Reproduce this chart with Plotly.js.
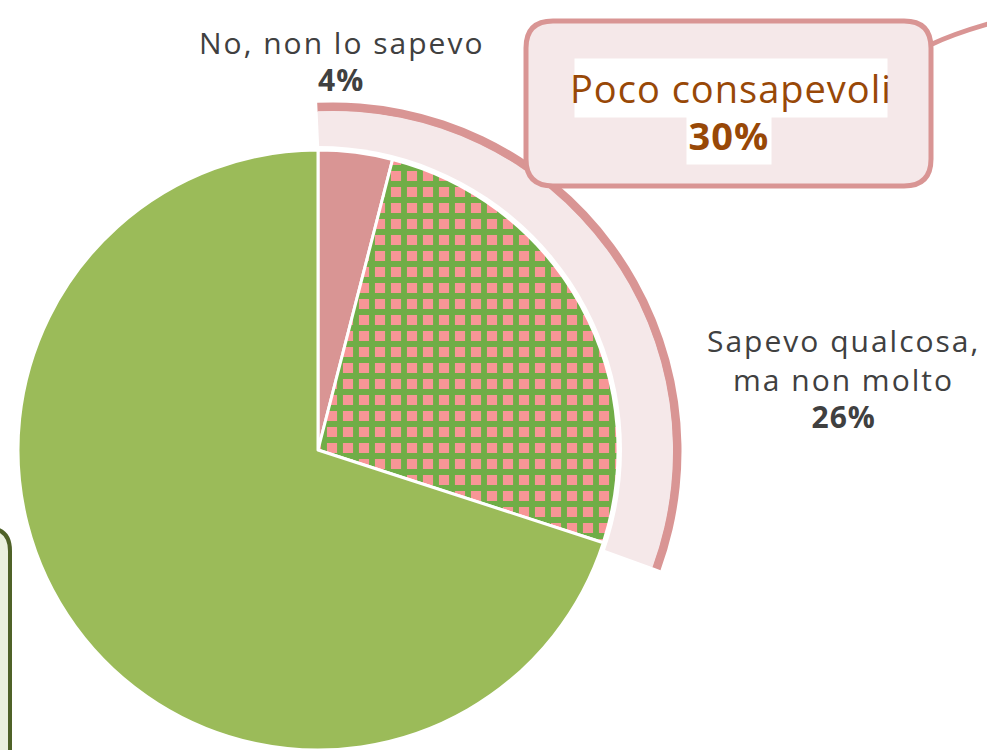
<!DOCTYPE html>
<html>
<head>
<meta charset="utf-8">
<script src="https://cdn.plot.ly/plotly-3.0.1.min.js"></script>
<style>
  html, body { margin: 0; padding: 0; overflow: hidden; background: #fff; }
  #chart { position: absolute; left: -100px; top: 0; width: 1087px; height: 850px; }
  /* the original font is wider: open the letters up a little */
  #chart .annotation text { letter-spacing: 1px; }
  #chart .annotation[data-index="0"] text,
  #chart .annotation[data-index="2"] text,
  #chart .annotation[data-index="3"] text { letter-spacing: 2px; }
</style>
</head>
<body>
<div id="chart"></div>
<script>
// answers (clockwise from 12 o'clock)
var labels = ['No, non lo sapevo', 'Sapevo qualcosa, ma non molto', 'Sì, lo sapevo'];
var values = [4, 26, 70];
var sliceColors = ['#d99594', '#f79696', '#9bbb59'];

// group shown by the outer band
var groupLabel = 'Poco consapevoli';
var groupValue = values[0] + values[1];

var W = 1087, H = 850, OFF = 100;   // drawing area bigger than the window, shifted left
var cx = 318, cy = 450, r = 300;    // pie centre and radius on the page
var bx = 333, by = 451;             // the band is drawn a little off-centre, as in the original
var bandStart = -2.6, bandPad = 4.6; // degrees

function dom(x0, y0, rad) {
  return {
    x: [(x0 + OFF - rad) / W, (x0 + OFF + rad) / W],
    y: [1 - (y0 + rad) / H, 1 - (y0 - rad) / H]
  };
}

var sweep = groupValue * 3.6 + bandPad;

var bandBorder = {
  type: 'pie',
  values: [sweep, 360 - sweep],
  labels: [groupLabel, ''],
  sort: false, direction: 'clockwise', rotation: bandStart,
  hole: 339.5 / 348.5,
  textinfo: 'none', hoverinfo: 'skip',
  domain: dom(bx, by, 348.5),
  marker: {colors: ['#d99594', 'rgba(0,0,0,0)'], line: {width: 0}},
  showlegend: false
};

var band = {
  type: 'pie',
  values: [sweep, 360 - sweep],
  labels: [groupLabel, ''],
  sort: false, direction: 'clockwise', rotation: bandStart,
  textinfo: 'none', hoverinfo: 'skip',
  domain: dom(bx, by, 340),
  marker: {colors: ['#f5e8e9', 'rgba(0,0,0,0)'], line: {width: 0}},
  showlegend: false
};

// white gap between the pie and the band
var gap = {
  type: 'pie',
  values: [1],
  labels: [''],
  textinfo: 'none', hoverinfo: 'skip',
  domain: dom(cx, cy, 304),
  marker: {colors: ['#ffffff'], line: {width: 0}},
  showlegend: false
};

var pie = {
  type: 'pie',
  labels: labels,
  values: values,
  sort: false,
  direction: 'clockwise',
  rotation: 0,
  textinfo: 'none',
  hoverinfo: 'label+percent',
  domain: dom(cx, cy, r),
  marker: {
    colors: sliceColors,
    line: {color: '#ffffff', width: 3},
    pattern: {
      shape: ['', '+', ''],
      fillmode: 'replace',
      bgcolor: ['#d99594', '#f79696', '#9bbb59'],
      fgcolor: ['#d99594', '#70ad47', '#9bbb59'],
      size: 16,
      solidity: 0.6
    }
  },
  showlegend: false
};

var font = 'Open Sans, sans-serif';
var grey = '#404040';
var brown = '#984807';

function note(x, y, text, size, color, bg) {
  var a = {
    x: x, y: y, xref: 'x', yref: 'y', text: text, showarrow: false,
    font: {family: font, size: size, color: color}, xanchor: 'center', yanchor: 'middle'
  };
  if (bg) { a.bgcolor = bg; a.borderpad = 3; }
  return a;
}

var layout = {
  width: W,
  height: H,
  margin: {l: 0, r: 0, t: 0, b: 0},
  paper_bgcolor: '#ffffff',
  plot_bgcolor: 'rgba(0,0,0,0)',
  xaxis: {range: [-OFF, W - OFF], visible: false, fixedrange: true},
  yaxis: {range: [H, 0], visible: false, fixedrange: true},
  shapes: [
    // callout box
    {type: 'path', xref: 'x', yref: 'y', layer: 'above',
     path: 'M 553 21 L 904 21 Q 931 21 931 48 L 931 159 Q 931 186 904 186 L 553 186 Q 526 186 526 159 L 526 48 Q 526 21 553 21 Z',
     line: {color: '#d99594', width: 5}, fillcolor: '#f5e8e9'},
    {type: 'path', xref: 'x', yref: 'y', layer: 'above',
     path: 'M 930 45 Q 955 33 995 22',
     line: {color: '#d99594', width: 5}},
    // box at lower left, mostly off the page
    {type: 'path', xref: 'x', yref: 'y', layer: 'below',
     path: 'M -40 528 L -13 528 Q 10 528 10 551 L 10 790 L -40 790 Z',
     line: {color: '#4f6228', width: 4}, fillcolor: '#ebf1de'}
  ],
  annotations: [
    note(341, 42, labels[0], 30, grey),
    note(341, 79, '<b>' + values[0] + '%</b>', 30, grey),
    note(843, 340, 'Sapevo qualcosa,', 30, grey),
    note(843, 379, 'ma non molto', 30, grey),
    note(843, 416, '<b>' + values[1] + '%</b>', 30, grey),
    note(731, 88, groupLabel, 38, brown, '#ffffff'),
    note(729, 135, '<b>' + groupValue + '%</b>', 38, brown, '#ffffff')
  ]
};

Plotly.newPlot('chart', [bandBorder, band, gap, pie], layout, {displayModeBar: false, staticPlot: true});
</script>
</body>
</html>
